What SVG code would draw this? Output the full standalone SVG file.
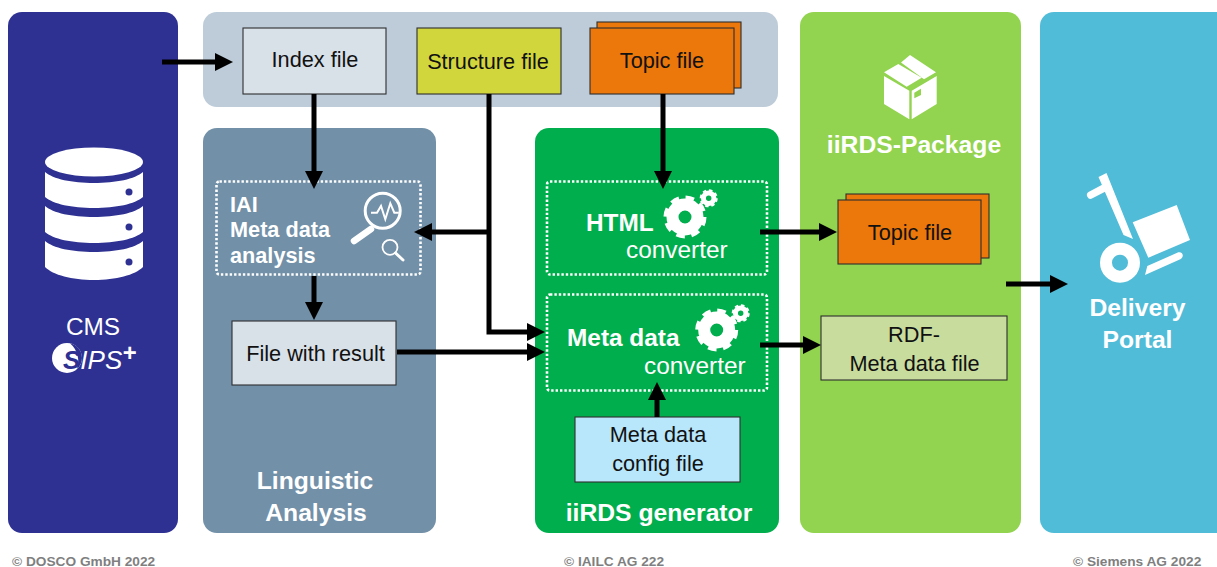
<svg xmlns="http://www.w3.org/2000/svg" xmlns:xlink="http://www.w3.org/1999/xlink" width="1217" height="567" viewBox="0 0 1217 567">
<style>
text{font-family:"Liberation Sans",Arial,sans-serif}
.box{stroke:#2f2f2f;stroke-width:1.1}
.t{font-size:21.7px;fill:#111;text-anchor:middle}
.w{fill:#fff}
.title{font-size:24.7px;font-weight:bold;fill:#fff;text-anchor:middle}
.b{font-size:24.4px;font-weight:bold;fill:#fff}
.r{font-size:24.4px;fill:#fff}
.ib{font-size:21.7px;font-weight:bold;fill:#fff}
.dot{fill:none;stroke:#fff;stroke-width:2.6;stroke-dasharray:2.4 2}
.c{fill:none;stroke:#000;stroke-width:5}
.foot{font-size:13.7px;font-weight:bold;fill:#7f7f7f}
</style>
<defs>
<marker id="a" markerUnits="userSpaceOnUse" markerWidth="20" markerHeight="20" refX="1" refY="9" orient="auto"><path d="M0 0L18 9L0 18z" fill="#000"/></marker>
<g id="gear"><circle r="12.500" fill="none" stroke="#fff" stroke-width="12"/><circle r="19" fill="none" stroke="#fff" stroke-width="5" stroke-dasharray="8.400 6.520"/></g>
</defs>
<g id="cms">
<rect x="8" y="12" width="170" height="521" rx="14" fill="#2e3192"/>
<path class="w" d="M45 162a49 14.500 0 0 1 98 0a49 14.500 0 0 1-98 0z"/>
<path class="w" d="M45 172c8 7 27 11 49 11s41-4 49-11v25c-8 7-27 11-49 11s-41-4-49-11z"/>
<path class="w" d="M45 206c8 7 27 11 49 11s41-4 49-11v26c-8 7-27 11-49 11s-41-4-49-11z"/>
<path class="w" d="M45 241c8 7 27 11 49 11s41-4 49-11v26c-8 8-27 13-49 13s-41-5-49-13z"/>
<circle cx="129" cy="192" r="3.500" fill="#2e3192"/><circle cx="129" cy="227" r="3.500" fill="#2e3192"/><circle cx="129" cy="262" r="3.500" fill="#2e3192"/>
<text x="93" y="335" font-size="24.4" class="w" text-anchor="middle">CMS</text>
<circle cx="67" cy="358" r="15" fill="#fff"/>
<path d="M70 343.300a15 15 0 0 1 12 14.700a15 15 0 0 1-5 11a24 24 0 0 0-7-25.700z" fill="#2e3192"/>
<text x="63" y="369" font-size="26" font-style="italic" class="w"><tspan fill="#2e3192" font-weight="bold">S</tspan>IPS<tspan font-size="24" dy="-8" font-weight="bold">+</tspan></text>
</g>
<g id="input"><rect x="203" y="12" width="575" height="95" rx="14" fill="#bdccd8"/></g>
<g id="linguistic"><rect x="203" y="128" width="233" height="405" rx="14" fill="#7290a8"/>
<text class="title" x="315" y="489">Linguistic</text><text class="title" x="316" y="521">Analysis</text></g>
<g id="generator"><rect x="535" y="128" width="244" height="405" rx="14" fill="#00ae4d"/>
<text class="title" x="659" y="521">iiRDS generator</text></g>
<g id="package"><rect x="800" y="12" width="221" height="521" rx="14" fill="#92d34f"/>
<path class="w" d="M884 76l25.300 14.700v28.600L884 104zM911.700 90.700L936.700 76v28l-25 15.300zM884 72.300L898.300 64l23.400 13.700-15 9zM901 62.500L910 55l26 17.300-12 7z"/>
<path d="M914.300 92.700l6.700-4v6.300l-6.700 3.300z" fill="#92d34f"/>
<text class="title" x="914" y="153">iiRDS-Package</text></g>
<g id="delivery"><path d="M1054 12H1217V533H1054a14 14 0 0 1-14-14V26a14 14 0 0 1 14-14z" fill="#50bcd8"/>
<path class="w" d="M1098.500 177l8-4 26.500 66-9.500-4zM1132.700 222.300l44-17.300 13.300 35-41.700 17.700zM1145 275l2.300-9 31-13.700c5-1 6 5 2 7z"/>
<path d="M1090.700 195l16-8.300" stroke="#fff" stroke-width="7.500" stroke-linecap="round"/>
<circle cx="1120" cy="262.700" r="14" fill="none" stroke="#fff" stroke-width="12"/>
<text class="title" x="1137.500" y="316">Delivery</text><text class="title" x="1137.500" y="348">Portal</text></g>
<g id="index"><rect class="box" x="243" y="28" width="143" height="66" fill="#d8e0e8"/><text class="t" x="315" y="67">Index file</text></g>
<g id="structure"><rect class="box" x="417" y="28" width="144" height="66" fill="#d2d63d"/><text class="t" x="488" y="69">Structure file</text></g>
<g id="topic"><rect class="box" x="597" y="22" width="144" height="66" fill="#ec770b"/><rect class="box" x="590" y="28" width="144" height="66" fill="#ec770b"/><text class="t" x="662" y="68">Topic file</text></g>
<g id="iai"><rect class="dot" x="216.500" y="181.500" width="204" height="93" rx="3"/>
<text class="ib" x="230" y="212">IAI</text><text class="ib" x="230" y="237">Meta data</text><text class="ib" x="230" y="263">analysis</text>
<circle cx="382.700" cy="210.700" r="17.500" fill="none" stroke="#fff" stroke-width="3"/>
<path d="M371 229L354 241" stroke="#fff" stroke-width="6.500" stroke-linecap="round"/>
<path d="M371 212.700h6l4-6.700 4.300 13.300 5-16 4 9.400h4.500" fill="none" stroke="#fff" stroke-width="2"/>
<circle cx="390" cy="247.300" r="7.500" fill="none" stroke="#fff" stroke-width="1.800"/>
<path d="M395.500 253L403 260" stroke="#fff" stroke-width="3" stroke-linecap="round"/></g>
<g id="html"><rect class="dot" x="547" y="181.500" width="220" height="93" rx="3"/>
<text class="b" x="586" y="231">HTML</text><text class="r" x="626" y="258">converter</text>
<use xlink:href="#gear" transform="translate(685 217)"/><use xlink:href="#gear" transform="translate(708.700 198.300) scale(.42)"/></g>
<g id="metaconv"><rect class="dot" x="547" y="294.500" width="220" height="96" rx="3"/>
<text class="b" x="567" y="346">Meta data</text><text class="r" x="644" y="374">converter</text>
<use xlink:href="#gear" transform="translate(716.700 330)"/><use xlink:href="#gear" transform="translate(740.700 313.300) scale(.42)"/></g>
<g id="result"><rect class="box" x="232" y="321" width="164" height="64" fill="#d8e0e8"/><text class="t" x="315.500" y="361">File with result</text></g>
<g id="config"><rect class="box" x="575" y="417" width="165" height="65" fill="#b8e6fb"/><text class="t" x="658" y="442">Meta data</text><text class="t" x="658" y="471">config file</text></g>
<g id="topic2"><rect class="box" x="846" y="194" width="143" height="64" fill="#ec770b"/><rect class="box" x="838" y="200" width="143" height="64" fill="#ec770b"/><text class="t" x="910" y="240">Topic file</text></g>
<g id="rdf"><rect class="box" x="821" y="316" width="186" height="64" fill="#c8dc9e"/><text class="t" x="914" y="342">RDF-</text><text class="t" x="914.500" y="371">Meta data file</text></g>
<g id="connectors">
<path class="c" marker-end="url(#a)" d="M162 62H216"/>
<path class="c" marker-end="url(#a)" d="M314 94V172"/>
<path class="c" marker-end="url(#a)" d="M489 94V332H528"/>
<path class="c" marker-end="url(#a)" d="M489 232H431"/>
<path class="c" marker-end="url(#a)" d="M663 94V172"/>
<path class="c" marker-end="url(#a)" d="M760 232H820"/>
<path class="c" marker-end="url(#a)" d="M760 345H804"/>
<path class="c" marker-end="url(#a)" d="M314 276V303"/>
<path class="c" marker-end="url(#a)" d="M397 352H528"/>
<path class="c" marker-end="url(#a)" d="M657 417V399"/>
<path class="c" marker-end="url(#a)" d="M1006 284H1051"/>
</g>
<g id="footer">
<text class="foot" x="12" y="566">© DOSCO GmbH 2022</text>
<text class="foot" x="564" y="566">© IAILC AG 222</text>
<text class="foot" x="1073" y="566">© Siemens AG 2022</text>
</g>
</svg>
